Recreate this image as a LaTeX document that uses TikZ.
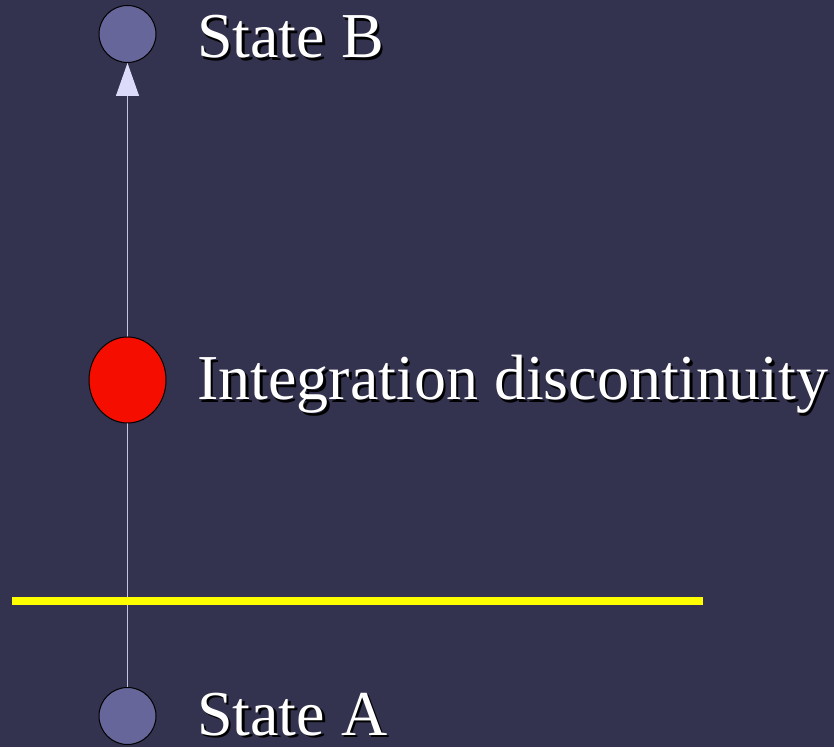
\documentclass[tikz,border=0pt]{standalone}
\usepackage{fontspec}
\setmainfont{Liberation Serif}
\usetikzlibrary{arrows.meta,shapes.geometric}
\definecolor{SlideBg}{HTML}{33324F}
\definecolor{StateFill}{HTML}{66669A}
\definecolor{DiscRed}{HTML}{F50E00}
\definecolor{PathLine}{HTML}{C4C4E4}
\definecolor{PathTip}{HTML}{DCDCFA}
\definecolor{CutYellow}{HTML}{FFFF00}

\begin{document}
\begin{tikzpicture}[x=1pt,y=1pt,
  statedot/.style={circle,draw=black,line width=1pt,fill=StateFill,minimum size=57pt,inner sep=0pt},
  slidetext/.style={anchor=base west,inner sep=0pt,font=\fontsize{64}{72}\selectfont,text=white},
  slideshadow/.style={slidetext,text=black}]
  \fill[SlideBg] (0,0) rectangle (834,747);
  \useasboundingbox (0,0) rectangle (834,747);
  \node[statedot] (stateA) at (127.5,31) {};
  \node[statedot] (stateB) at (127.5,713) {};
  \draw[PathLine,line width=1pt,-{Triangle[length=33pt,width=23pt,fill=PathTip,color=PathTip]}] (stateA) -- (stateB);
  \node[ellipse,draw=black,line width=1pt,fill=DiscRed,minimum width=77pt,minimum height=86pt,inner sep=0pt] (disc) at (127.5,367) {};
  \draw[CutYellow,line width=8pt] (12,146) coordinate (cutL) -- (703,146) coordinate (cutR);
  % labels with drop shadow
  \node[slideshadow] (labBs) at (199.5,686.5) {State B};
  \node[slidetext] (labB) at (197,689) {State B};
  \node[slideshadow] (labDs) at (199.5,344.5) {Integration discontinuity};
  \node[slidetext] (labD) at (197,347) {Integration discontinuity};
  \node[slideshadow] (labAs) at (199.5,9.5) {State A};
  \node[slidetext] (labA) at (197,12) {State A};
\end{tikzpicture}
\end{document}
